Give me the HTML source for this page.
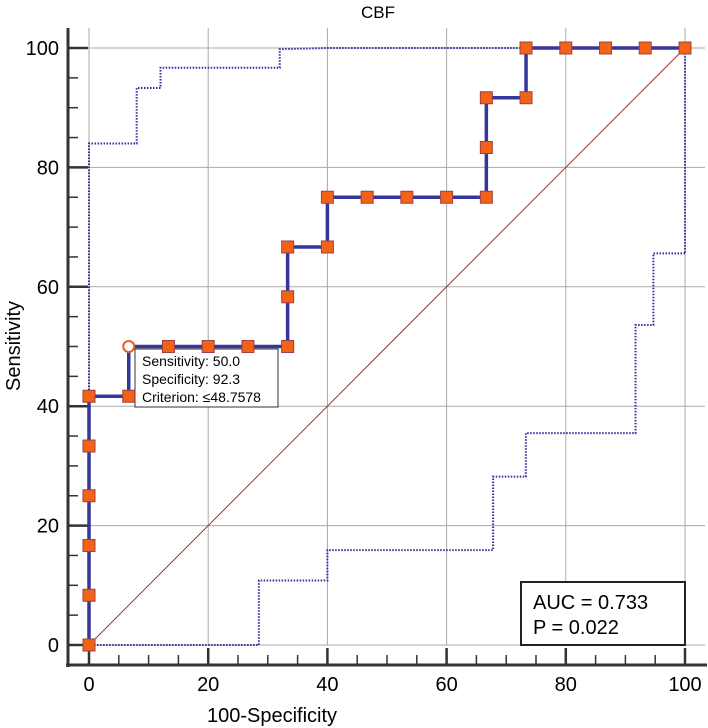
<!DOCTYPE html>
<html><head><meta charset="utf-8"><style>
html,body{margin:0;padding:0;background:#fff;}
svg{display:block;font-family:"Liberation Sans",Arial,sans-serif;}
</style></head><body>
<svg id="chart" width="708" height="728" viewBox="0 0 708 728">
<text x="378" y="18" font-size="17" text-anchor="middle">CBF</text>
<g id="grid"></g>
<g id="axes"></g>
<g>
<rect x="135" y="349" width="143" height="58" fill="#fff" stroke="#333" stroke-width="1"/>
<text x="142" y="366" font-size="14">Sensitivity: 50.0</text>
<text x="142" y="384" font-size="14">Specificity: 92.3</text>
<text x="142" y="402" font-size="14">Criterion: ≤48.7578</text>
</g>
<g id="series"></g>
<g>
<rect x="521" y="582" width="164" height="63" fill="#fff" stroke="#222" stroke-width="2"/>
<text x="533" y="609" font-size="20">AUC = 0.733</text>
<text x="533" y="634" font-size="20">P = 0.022</text>
</g>
<text x="272" y="722" font-size="20" text-anchor="middle">100-Specificity</text>
<text transform="translate(20,346) rotate(-90)" font-size="20" text-anchor="middle">Sensitivity</text>
</svg>
<script>
const rocX=[0,0,0,0,0,0,6.67,6.67,13.33,20,26.67,33.33,33.33,33.33,40,40,46.67,53.33,60,66.67,66.67,66.67,73.33,73.33,80,86.67,93.33,100];
const rocY=[0,8.33,16.67,25,33.33,41.67,41.67,50,50,50,50,50,58.33,66.67,66.67,75,75,75,75,75,83.33,91.67,91.67,100,100,100,100,100];
const upperX=[0,0,8,8,12,12,32,32,40,100,100];
const upperY=[0,84,84,93.3,93.3,96.7,96.7,99.8,100,100,65.6];
const lowerX=[100,94.7,94.7,91.7,91.7,73.3,73.3,67.8,67.8,40,40,28.5,28.5,0];
const lowerY=[65.6,65.6,53.6,53.6,35.5,35.5,28.2,28.2,15.9,15.9,10.8,10.8,0,0];
const ticks=[0,20,40,60,80,100];
const highlightIndex=7;
const NS="http://www.w3.org/2000/svg";
const sx=v=>89+v*5.96, sy=v=>645-v*5.97;
function mk(tag,attrs,parent){const e=document.createElementNS(NS,tag);for(const k in attrs)e.setAttribute(k,attrs[k]);parent.appendChild(e);return e;}
const grid=document.getElementById('grid'),axes=document.getElementById('axes'),ser=document.getElementById('series');
ticks.forEach(t=>{
 const v=mk('line',{x1:sx(t),x2:sx(t),y1:28,y2:645,stroke:'#aaa','stroke-width':1},grid);
 
 
 const h=mk('line',{x1:68,x2:705,y1:sy(t),y2:sy(t),stroke:'#aaa','stroke-width':1},grid);
 
 
 const xl=mk('text',{x:sx(t),y:691,'font-size':20,'text-anchor':'middle'},axes);xl.textContent=t;
 
 
 const yl=mk('text',{x:59,y:sy(t)+7,'font-size':20,'text-anchor':'end'},axes);yl.textContent=t;
 
 
});
for(let t=0;t<=100;t+=5){
 const maj=t%20===0;
 mk('line',{x1:sx(t),x2:sx(t),y1:665,y2:maj?648:655,stroke:'#333','stroke-width':maj?2.5:1.5},axes);
 mk('line',{x1:68,x2:maj?88:78,y1:sy(t),y2:sy(t),stroke:'#333','stroke-width':maj?2.5:1.5},axes);
}
const xa=mk('line',{x1:66,x2:707,y1:665,y2:665,stroke:'#333','stroke-width':3},axes);


const ya=mk('line',{x1:68,x2:68,y1:28,y2:667,stroke:'#333','stroke-width':3},axes);


const diag=mk('line',{x1:sx(0),y1:sy(0),x2:sx(100),y2:sy(100),stroke:'#a03030','stroke-width':1},ser);


function pts(xs,ys){return xs.map((x,i)=>sx(x)+','+sy(ys[i])).join(' ');}
const up=mk('polyline',{points:pts(upperX,upperY),fill:'none',stroke:'#3030a0','stroke-width':2,'stroke-dasharray':'1.5 1.5'},ser);


const lo=mk('polyline',{points:pts(lowerX,lowerY),fill:'none',stroke:'#3030a0','stroke-width':2,'stroke-dasharray':'1.5 1.5'},ser);


const roc=mk('polyline',{points:pts(rocX,rocY),fill:'none',stroke:'#35359a','stroke-width':3.5},ser);


rocX.forEach((x,i)=>{
 let m;
 if(i===highlightIndex){m=mk('circle',{cx:sx(x),cy:sy(rocY[i]),r:5.5,fill:'#fff',stroke:'#e06020','stroke-width':2},ser);}
 else{m=mk('rect',{x:sx(x)-6,y:sy(rocY[i])-6,width:12,height:12,fill:'#f26318',stroke:'#a04040','stroke-width':1},ser);}
 
 
});
</script>
</body></html>
